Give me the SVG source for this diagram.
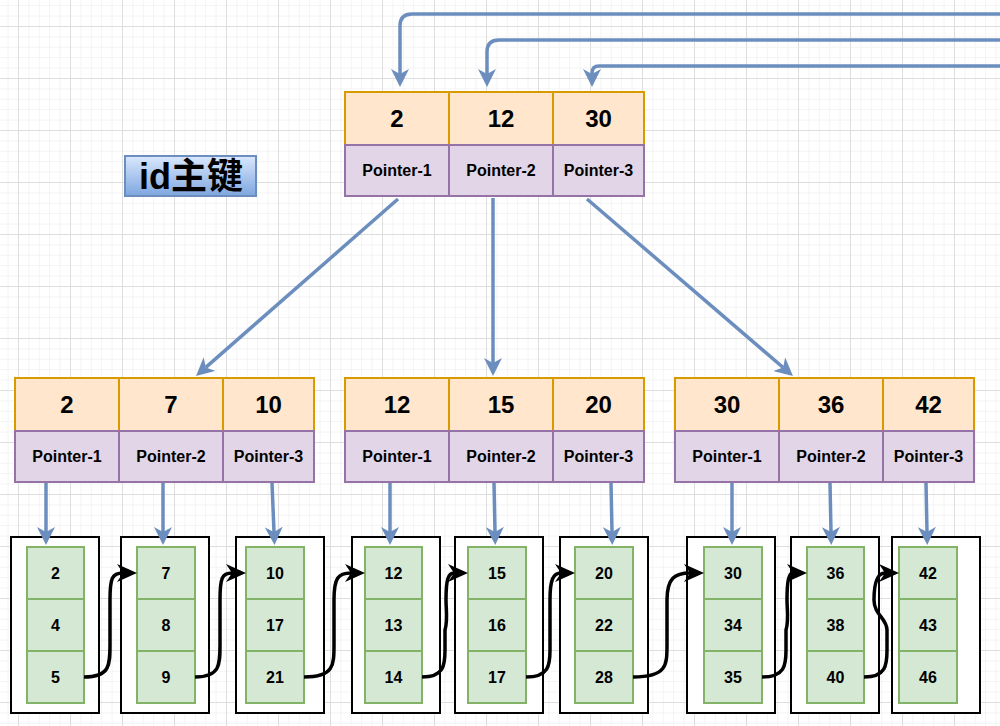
<svg xmlns="http://www.w3.org/2000/svg" width="1000" height="726" viewBox="0 0 1000 726">
<defs>
<pattern id="minor" x="18" y="26" width="10.4" height="10.4" patternUnits="userSpaceOnUse"><path d="M0.5 0 V10.4 M0 0.5 H10.4" stroke="#f3f3f3" stroke-width="1" fill="none"/></pattern>
<pattern id="major" x="18" y="26" width="52" height="52" patternUnits="userSpaceOnUse"><path d="M0.5 0 V52 M0 0.5 H52" stroke="#dedede" stroke-width="1" fill="none"/></pattern>
<linearGradient id="lblgrad" x1="0" y1="0" x2="0" y2="1"><stop offset="0" stop-color="#dae8fc"/><stop offset="1" stop-color="#7ea6e0"/></linearGradient>
<marker id="blueHead" markerUnits="userSpaceOnUse" markerWidth="18" markerHeight="18" refX="5" refY="9" orient="auto"><path d="M0,0 L18,9 L0,18 L5,9 Z" fill="#6c8ebf"/></marker>
<marker id="blackHead" markerUnits="userSpaceOnUse" markerWidth="20" markerHeight="18" refX="6" refY="9" orient="auto"><path d="M0,0 L20,9 L0,18 L6,9 Z" fill="#000"/></marker>
<style>
.key{fill:#ffe6cc;stroke:#d79b00;stroke-width:2}
.ptr{fill:#e1d5e7;stroke:#9673a6;stroke-width:2}
.leafbox{fill:#fff;stroke:#000;stroke-width:2}
.cell{fill:#d5e8d4;stroke:#82b366;stroke-width:2}
.num{font-family:"Liberation Sans",Arial,Helvetica,sans-serif;font-weight:bold;font-size:24px;text-anchor:middle;fill:#000}
.ptxt{font-family:"Liberation Sans",Arial,Helvetica,sans-serif;font-weight:bold;font-size:16px;text-anchor:middle;fill:#000}
.ltxt{font-family:"Liberation Sans",Arial,Helvetica,sans-serif;font-weight:bold;font-size:16px;text-anchor:middle;fill:#000}
.blue{fill:none;stroke:#6c8ebf;stroke-width:3.5;marker-end:url(#blueHead)}
.black{fill:none;stroke:#000;stroke-width:3.5;marker-end:url(#blackHead)}
</style>
</defs>
<rect width="1000" height="726" fill="#fff"/>
<rect width="1000" height="726" fill="url(#minor)"/>
<rect width="1000" height="726" fill="url(#major)"/>

<g id="label-id">
<rect x="125" y="156" width="131" height="40" fill="url(#lblgrad)" stroke="#6c8ebf" stroke-width="2"/>
<text x="191" y="189" font-family="'Liberation Sans','Noto Sans CJK SC',sans-serif" font-weight="bold" font-size="36" text-anchor="middle" fill="#000">id主键</text>
</g>

<g id="root">
<rect class="key" x="345" y="92" width="104" height="53"/><rect class="key" x="449" y="92" width="104" height="53"/><rect class="key" x="553" y="92" width="91" height="53"/>
<rect class="ptr" x="345" y="145" width="104" height="51"/><rect class="ptr" x="449" y="145" width="104" height="51"/><rect class="ptr" x="553" y="145" width="91" height="51"/>
<text class="num" x="397" y="127">2</text><text class="num" x="501" y="127">12</text><text class="num" x="598.5" y="127">30</text>
<text class="ptxt" x="397" y="176">Pointer-1</text><text class="ptxt" x="501" y="176">Pointer-2</text><text class="ptxt" x="598.5" y="176">Pointer-3</text>
</g>

<g id="inner-1">
<rect class="key" x="15" y="378" width="104" height="53"/><rect class="key" x="119" y="378" width="104" height="53"/><rect class="key" x="223" y="378" width="91" height="53"/>
<rect class="ptr" x="15" y="431" width="104" height="51"/><rect class="ptr" x="119" y="431" width="104" height="51"/><rect class="ptr" x="223" y="431" width="91" height="51"/>
<text class="num" x="67" y="413">2</text><text class="num" x="171" y="413">7</text><text class="num" x="268.5" y="413">10</text>
<text class="ptxt" x="67" y="462">Pointer-1</text><text class="ptxt" x="171" y="462">Pointer-2</text><text class="ptxt" x="268.5" y="462">Pointer-3</text>
</g>
<g id="inner-2">
<rect class="key" x="345" y="378" width="104" height="53"/><rect class="key" x="449" y="378" width="104" height="53"/><rect class="key" x="553" y="378" width="91" height="53"/>
<rect class="ptr" x="345" y="431" width="104" height="51"/><rect class="ptr" x="449" y="431" width="104" height="51"/><rect class="ptr" x="553" y="431" width="91" height="51"/>
<text class="num" x="397" y="413">12</text><text class="num" x="501" y="413">15</text><text class="num" x="598.5" y="413">20</text>
<text class="ptxt" x="397" y="462">Pointer-1</text><text class="ptxt" x="501" y="462">Pointer-2</text><text class="ptxt" x="598.5" y="462">Pointer-3</text>
</g>
<g id="inner-3">
<rect class="key" x="675" y="378" width="104" height="53"/><rect class="key" x="779" y="378" width="104" height="53"/><rect class="key" x="883" y="378" width="91" height="53"/>
<rect class="ptr" x="675" y="431" width="104" height="51"/><rect class="ptr" x="779" y="431" width="104" height="51"/><rect class="ptr" x="883" y="431" width="91" height="51"/>
<text class="num" x="727" y="413">30</text><text class="num" x="831" y="413">36</text><text class="num" x="928.5" y="413">42</text>
<text class="ptxt" x="727" y="462">Pointer-1</text><text class="ptxt" x="831" y="462">Pointer-2</text><text class="ptxt" x="928.5" y="462">Pointer-3</text>
</g>

<g id="leaf-1"><rect class="leafbox" x="11" y="537" width="88" height="176"/><rect class="cell" x="27" y="547" width="57" height="52"/><rect class="cell" x="27" y="599" width="57" height="52"/><rect class="cell" x="27" y="651" width="57" height="52"/>
<text class="ltxt" x="55.5" y="579">2</text><text class="ltxt" x="55.5" y="631">4</text><text class="ltxt" x="55.5" y="683">5</text></g>
<g id="leaf-2"><rect class="leafbox" x="121" y="537" width="88" height="176"/><rect class="cell" x="137" y="547" width="58" height="52"/><rect class="cell" x="137" y="599" width="58" height="52"/><rect class="cell" x="137" y="651" width="58" height="52"/>
<text class="ltxt" x="166" y="579">7</text><text class="ltxt" x="166" y="631">8</text><text class="ltxt" x="166" y="683">9</text></g>
<g id="leaf-3"><rect class="leafbox" x="236" y="537" width="88" height="176"/><rect class="cell" x="246" y="547" width="58" height="52"/><rect class="cell" x="246" y="599" width="58" height="52"/><rect class="cell" x="246" y="651" width="58" height="52"/>
<text class="ltxt" x="275" y="579">10</text><text class="ltxt" x="275" y="631">17</text><text class="ltxt" x="275" y="683">21</text></g>
<g id="leaf-4"><rect class="leafbox" x="352" y="537" width="88" height="176"/><rect class="cell" x="365" y="547" width="57" height="52"/><rect class="cell" x="365" y="599" width="57" height="52"/><rect class="cell" x="365" y="651" width="57" height="52"/>
<text class="ltxt" x="393.5" y="579">12</text><text class="ltxt" x="393.5" y="631">13</text><text class="ltxt" x="393.5" y="683">14</text></g>
<g id="leaf-5"><rect class="leafbox" x="455" y="537" width="88" height="176"/><rect class="cell" x="468" y="547" width="58" height="52"/><rect class="cell" x="468" y="599" width="58" height="52"/><rect class="cell" x="468" y="651" width="58" height="52"/>
<text class="ltxt" x="497" y="579">15</text><text class="ltxt" x="497" y="631">16</text><text class="ltxt" x="497" y="683">17</text></g>
<g id="leaf-6"><rect class="leafbox" x="560" y="537" width="88" height="176"/><rect class="cell" x="575" y="547" width="58" height="52"/><rect class="cell" x="575" y="599" width="58" height="52"/><rect class="cell" x="575" y="651" width="58" height="52"/>
<text class="ltxt" x="604" y="579">20</text><text class="ltxt" x="604" y="631">22</text><text class="ltxt" x="604" y="683">28</text></g>
<g id="leaf-7"><rect class="leafbox" x="687" y="537" width="88" height="176"/><rect class="cell" x="704" y="547" width="58" height="52"/><rect class="cell" x="704" y="599" width="58" height="52"/><rect class="cell" x="704" y="651" width="58" height="52"/>
<text class="ltxt" x="733" y="579">30</text><text class="ltxt" x="733" y="631">34</text><text class="ltxt" x="733" y="683">35</text></g>
<g id="leaf-8"><rect class="leafbox" x="791" y="537" width="88" height="176"/><rect class="cell" x="807" y="547" width="57" height="52"/><rect class="cell" x="807" y="599" width="57" height="52"/><rect class="cell" x="807" y="651" width="57" height="52"/>
<text class="ltxt" x="835.5" y="579">36</text><text class="ltxt" x="835.5" y="631">38</text><text class="ltxt" x="835.5" y="683">40</text></g>
<g id="leaf-9"><rect class="leafbox" x="892" y="537" width="88" height="176"/><rect class="cell" x="899" y="547" width="58" height="52"/><rect class="cell" x="899" y="599" width="58" height="52"/><rect class="cell" x="899" y="651" width="58" height="52"/>
<text class="ltxt" x="928" y="579">42</text><text class="ltxt" x="928" y="631">43</text><text class="ltxt" x="928" y="683">46</text></g>

<g id="connectors">
<path class="blue" d="M1000 14 H412 Q400 14 400 26 V74"/>
<path class="blue" d="M1000 40 H499 Q487 40 487 52 V74"/>
<path class="blue" d="M1000 66 H599 Q592 66 592 73 V74"/>
<path class="blue" d="M398 199 L205.8 367.4"/>
<path class="blue" d="M493 198 V363"/>
<path class="blue" d="M587 199 L783.1 367.5"/>
<path class="blue" d="M46 483 V532"/>
<path class="blue" d="M163 483 V532"/>
<path class="blue" d="M272 483 L274 532"/>
<path class="blue" d="M390 483 V532"/>
<path class="blue" d="M494 483 L495 532"/>
<path class="blue" d="M611 483 L612 532"/>
<path class="blue" d="M732 483 V532"/>
<path class="blue" d="M830 483 L831 532"/>
<path class="blue" d="M926 483 L927 532"/>
<path class="black" d="M84 677 C110 677 110 665 110 645 L110 600 C110 578 112 573 123 573"/>
<path class="black" d="M195 677 C220 677 220 665 220 645 L220 600 C220 578 222 573 232 573"/>
<path class="black" d="M304 677 C334 677 334 665 334 645 L334 600 C334 578 338 573 351 573"/>
<path class="black" d="M422 677 C444 677 445 665 445 650 L445 630 C448 620 446 610 446 600 C446 580 448 573 454 573"/>
<path class="black" d="M526 677 C549 677 550 665 550 650 L550 600 C550 580 553 573 561 573"/>
<path class="black" d="M633 677 C667 677 667 665 667 645 L667 600 C667 578 675 573 690 573"/>
<path class="black" d="M762 677 C785 677 786 665 786 650 L786 630 C789 620 787 610 787 600 C787 580 789 573 793 573"/>
<path class="black" d="M864 677 C886 677 887 665 887 650 L887 630 C887 618 874 615 874 600 C874 580 878 573 885 573"/>
</g>
</svg>
